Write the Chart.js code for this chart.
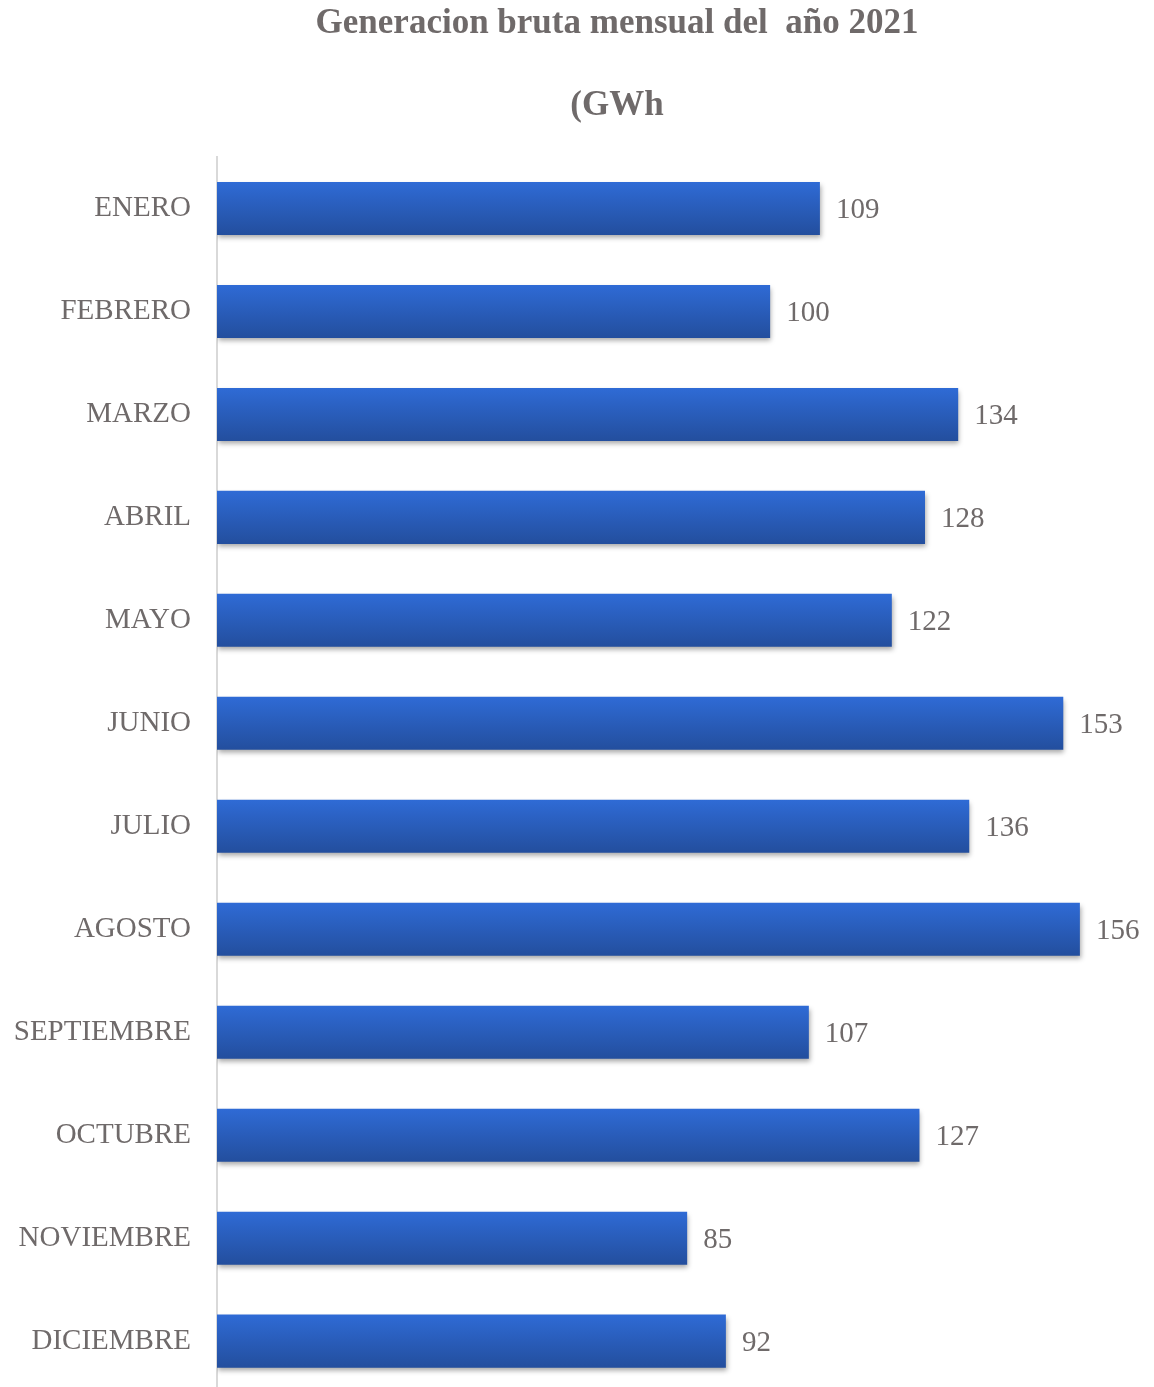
<!DOCTYPE html>
<html>
<head>
<meta charset="utf-8">
<script src="https://cdn.jsdelivr.net/npm/chart.js@4"></script>
<style>
  html, body { margin: 0; padding: 0; background: #fff; overflow: hidden; }
  canvas { display: block; }
</style>
</head>
<body>
<canvas id="genChart" width="1154" height="1436"></canvas>
<script>
const titleLines = ['Generacion bruta mensual del  año 2021', '(GWh'];
const months = ['ENERO', 'FEBRERO', 'MARZO', 'ABRIL', 'MAYO', 'JUNIO', 'JULIO',
  'AGOSTO', 'SEPTIEMBRE', 'OCTUBRE', 'NOVIEMBRE', 'DICIEMBRE'];
const generation = [109, 100, 134, 128, 122, 153, 136, 156, 107, 127, 85, 92];

const textGray = '#6f6a6a';
const serif = '"Liberation Serif", "DejaVu Serif", serif';

// degradado vertical por barra
function barGradient(ctx) {
  const chart = ctx.chart;
  if (ctx.type !== 'data' || !chart.chartArea) return '#2b5fc0';
  const y = chart.scales.y.getPixelForValue(ctx.dataIndex);
  const half = 27;
  const g = chart.ctx.createLinearGradient(0, y - half, 0, y + half);
  g.addColorStop(0, '#2f6bd6');
  g.addColorStop(1, '#234e9d');
  return g;
}

// sombra bajo las barras
const barShadow = {
  id: 'barShadow',
  beforeDatasetsDraw(chart) {
    const c = chart.ctx;
    c.save();
    c.shadowColor = 'rgba(0, 0, 0, 0.35)';
    c.shadowBlur = 5;
    c.shadowOffsetX = 1;
    c.shadowOffsetY = 3;
  },
  afterDatasetsDraw(chart) {
    chart.ctx.restore();
  }
};

// etiquetas de valor al final de cada barra
const valueLabels = {
  id: 'valueLabels',
  afterDatasetsDraw(chart) {
    const c = chart.ctx;
    const meta = chart.getDatasetMeta(0);
    c.save();
    c.font = '29px ' + serif;
    c.fillStyle = textGray;
    c.textAlign = 'left';
    c.textBaseline = 'middle';
    meta.data.forEach((bar, i) => {
      c.fillText(String(generation[i]), bar.x + 16, bar.y + 2);
    });
    c.restore();
  }
};

// titulo en dos lineas
const twoLineTitle = {
  id: 'twoLineTitle',
  afterDraw(chart) {
    const c = chart.ctx;
    c.save();
    c.font = 'bold 35px ' + serif;
    c.fillStyle = textGray;
    c.textAlign = 'center';
    c.textBaseline = 'middle';
    c.fillText(titleLines[0], 617, 24);
    c.fillText(titleLines[1], 617, 106);
    c.restore();
  }
};

new Chart(document.getElementById('genChart'), {
  type: 'bar',
  data: {
    labels: months,
    datasets: [{
      label: 'GWh',
      data: generation,
      backgroundColor: barGradient,
      borderWidth: 0,
      categoryPercentage: 1,
      barPercentage: 0.515
    }]
  },
  options: {
    indexAxis: 'y',
    responsive: false,
    devicePixelRatio: 1,
    animation: false,
    layout: { padding: { top: 157, right: 52, bottom: 0, left: 0 } },
    scales: {
      x: { display: false, min: 0, max: 160 },
      y: {
        afterFit(scale) { scale.width = 217; },
        grid: { display: false, drawTicks: false },
        border: { display: true, color: '#d9d9d9', width: 2 },
        ticks: {
          color: textGray,
          padding: 26,
          font: { family: serif, size: 29 }
        }
      }
    },
    plugins: {
      legend: { display: false },
      tooltip: { enabled: false },
      title: { display: false }
    }
  },
  plugins: [barShadow, valueLabels, twoLineTitle]
});
</script>
</body>
</html>
